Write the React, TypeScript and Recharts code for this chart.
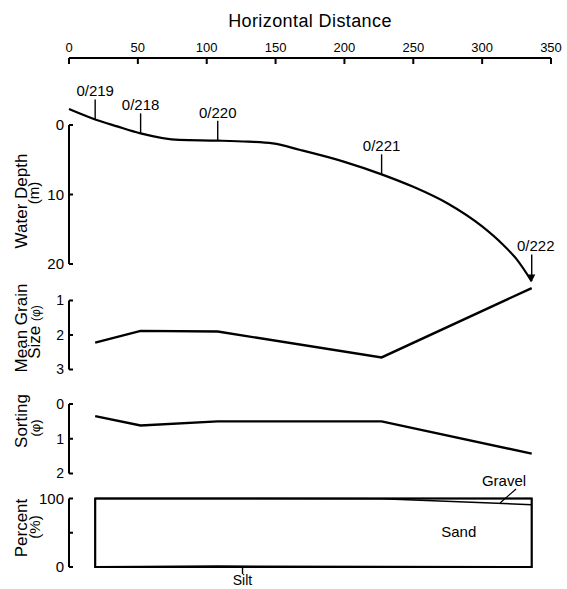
import React from 'react';
import {
  ComposedChart,
  Line,
  Area,
  Scatter,
  XAxis,
  YAxis,
  ReferenceLine,
  ReferenceArea,
  ReferenceDot,
  Label,
} from 'recharts';

const FONT = '"Liberation Sans", Arial, Helvetica, sans-serif';
const PAGE_W = 567;
const PAGE_H = 589;
const PLOT_LEFT = 69;
const PLOT_RIGHT_MARGIN = 16;
const X_DOMAIN: [number, number] = [0, 350];

// ---------------- data ----------------
const distanceTicks = [0, 50, 100, 150, 200, 250, 300, 350];

const stationNames = ['0/219', '0/218', '0/220', '0/221', '0/222'];
const stationDistance = [19, 52, 108, 227, 336];

const profileDistance = [0, 19, 35, 52, 80, 108, 130, 148, 168, 200, 227, 250, 275, 300, 315, 325, 336];
const profileDepth = [-2.3, -0.8, 0.2, 1.2, 2.15, 2.25, 2.4, 2.65, 3.6, 5.3, 7.1, 8.9, 11.3, 14.6, 17.2, 19.3, 22.5];

const meanGrainSize = [2.22, 1.88, 1.9, 2.65, 0.64];
const sortingValues = [0.35, 0.62, 0.5, 0.5, 1.43];
const siltPercent = [0.3, 0.6, 1.2, 0.5, 0];
const gravelPercent = [0, 0, 0, 0.5, 9];

const depthTicks = [0, 10, 20];
const grainTicks = [1, 2, 3];
const sortingTicks = [0, 1, 2];
const percentTicks = [0, 50, 100];
const percentTickLabels: Record<number, string> = { 0: '0', 50: '', 100: '100' };

// annotation anchors (data coordinates)
const siltLabelAt = { d: 126, pct: 0 };
const sandLabelAt = { d: 283, pct: 51 };
const gravelLabelAt = { d: 313, pct: 93.5 };

// ---------------- derived rows ----------------
const profileRows = profileDistance.map((d, i) => ({ d, depth: profileDepth[i] }));
const stationRows = stationNames.map((name, i) => {
  const d = stationDistance[i];
  const j = profileDistance.indexOf(d);
  return { name, d, depth: profileDepth[j] };
});
const sampleRows = stationDistance.map((d, i) => ({
  d,
  grain: meanGrainSize[i],
  sorting: sortingValues[i],
  silt: siltPercent[i],
  sand: 100 - siltPercent[i] - gravelPercent[i],
  gravel: gravelPercent[i],
}));

const lastStation = stationNames[stationNames.length - 1];

const StationMarker = (props: any) => {
  const { cx, cy, payload } = props;
  const isLast = payload && payload.name === lastStation;
  const len = isLast ? 27 : 20;
  return (
    <g>
      <line x1={cx} y1={cy - len} x2={cx} y2={isLast ? cy - 5 : cy} stroke="#000" strokeWidth={1.4} />
      {isLast && (
        <path d={`M${cx - 3.5},${cy - 7} L${cx},${cy} L${cx + 3.5},${cy - 7} Z`} fill="#000" />
      )}
      <text
        x={cx + (isLast ? 4 : 0)}
        y={cy - len - 3}
        textAnchor="middle"
        fontSize={15}
        fontFamily={FONT}
        fill="#000"
      >
        {payload.name}
      </text>
    </g>
  );
};

const SiltMark = (props: any) => {
  const { cx, cy } = props;
  return (
    <g>
      <line x1={cx} y1={cy} x2={cx} y2={cy + 7} stroke="#000" strokeWidth={1.4} />
      <text x={cx} y={cy + 18} textAnchor="middle" fontSize={14} fontFamily={FONT} fill="#000">
        Silt
      </text>
    </g>
  );
};

const SandMark = (props: any) => {
  const { cx, cy } = props;
  return (
    <text x={cx} y={cy + 5} textAnchor="middle" fontSize={15} fontFamily={FONT} fill="#000">
      Sand
    </text>
  );
};

const GravelMark = (props: any) => {
  const { cx, cy } = props;
  return (
    <g>
      <line x1={cx} y1={cy} x2={cx + 16} y2={cy - 14} stroke="#000" strokeWidth={1.3} />
      <text x={cx + 4} y={cy - 17} textAnchor="middle" fontSize={15} fontFamily={FONT} fill="#000">
        Gravel
      </text>
    </g>
  );
};

type PanelProps = {
  top: number;
  height: number;
  plotTop: number;
  plotBottom: number;
  data: any[];
  yDomain: [number, number];
  reversed?: boolean;
  ticks: number[];
  tickFontSize?: number;
  tickFormatter?: (v: number) => string;
  children?: React.ReactNode;
};

function Panel({ top, height, plotTop, plotBottom, data, yDomain, reversed, ticks, tickFontSize = 15, tickFormatter, children }: PanelProps) {
  const axisFrom = ticks[0];
  const axisTo = ticks[ticks.length - 1];
  return (
    <div style={{ position: 'absolute', left: 0, top, width: PAGE_W, height }}>
      <ComposedChart
        width={PAGE_W}
        height={height}
        data={data}
        margin={{ top: plotTop - top, bottom: top + height - plotBottom, left: 0, right: PLOT_RIGHT_MARGIN }}
      >
        <XAxis dataKey="d" type="number" domain={X_DOMAIN} hide />
        <YAxis
          type="number"
          domain={yDomain}
          reversed={reversed}
          ticks={ticks}
          interval={0}
          width={PLOT_LEFT}
          axisLine={false}
          tickSize={-4}
          tickMargin={9}
          tickLine={{ stroke: '#000', strokeWidth: 2 }}
          tick={{ fill: '#000', fontSize: tickFontSize, fontFamily: FONT }}
          tickFormatter={tickFormatter}
        />
        <ReferenceLine
          segment={[
            { x: 0, y: axisFrom },
            { x: 0, y: axisTo },
          ]}
          stroke="#000"
          strokeWidth={2}
        />
        {children}
      </ComposedChart>
    </div>
  );
}

function TitleText({ x, y, size, children }: { x: number; y: number; size: number; children: React.ReactNode }) {
  return (
    <text
      transform={`translate(${x},${y}) rotate(-90)`}
      textAnchor="middle"
      fontSize={size}
      fontFamily={FONT}
      fill="#000"
    >
      {children}
    </text>
  );
}

export default function App() {
  return (
    <div style={{ position: 'absolute', left: 0, top: 0, width: PAGE_W, height: PAGE_H, background: '#fff', overflow: 'hidden' }}>
      {/* top distance axis */}
      <div style={{ position: 'absolute', left: 0, top: 0 }}>
        <ComposedChart
          width={PAGE_W}
          height={72}
          data={sampleRows}
          margin={{ top: 0, right: PLOT_RIGHT_MARGIN, left: PLOT_LEFT, bottom: 0 }}
        >
          <XAxis
            dataKey="d"
            type="number"
            domain={X_DOMAIN}
            orientation="top"
            ticks={distanceTicks}
            interval={0}
            height={58}
            axisLine={{ stroke: '#000', strokeWidth: 2 }}
            tickLine={{ stroke: '#000', strokeWidth: 2 }}
            tickSize={-6}
            tickMargin={12}
            tick={{ fill: '#000', fontSize: 13, fontFamily: FONT }}
          >
            <Label
              value="Horizontal Distance"
              position="insideTop"
              offset={14}
              style={{ fill: '#000', fontSize: 18, fontFamily: FONT, letterSpacing: 0.4 }}
            />
          </XAxis>
          <YAxis hide />
        </ComposedChart>
      </div>

      {/* water depth */}
      <Panel
        top={70}
        height={225}
        plotTop={125 - 3 * 6.95}
        plotBottom={125 + 23 * 6.95}
        data={profileRows}
        yDomain={[-3, 23]}
        reversed
        ticks={depthTicks}
      >
        <Line
          dataKey="depth"
          type="monotone"
          stroke="#000"
          strokeWidth={2.2}
          dot={false}
          isAnimationActive={false}
        />
        <Scatter data={stationRows} dataKey="depth" shape={StationMarker} isAnimationActive={false} />
      </Panel>

      {/* mean grain size */}
      <Panel
        top={275}
        height={105}
        plotTop={300.5 - 0.5 * 34.5}
        plotBottom={300.5 + 2 * 34.5}
        data={sampleRows}
        yDomain={[0.5, 3]}
        reversed
        ticks={grainTicks}
        tickFontSize={14}
      >
        <Line dataKey="grain" type="linear" stroke="#000" strokeWidth={2.4} dot={false} isAnimationActive={false} />
      </Panel>

      {/* sorting */}
      <Panel
        top={395}
        height={90}
        plotTop={404}
        plotBottom={473.5}
        data={sampleRows}
        yDomain={[0, 2]}
        reversed
        ticks={sortingTicks}
        tickFontSize={14}
      >
        <Line dataKey="sorting" type="linear" stroke="#000" strokeWidth={2.4} dot={false} isAnimationActive={false} />
      </Panel>

      {/* percent */}
      <Panel
        top={458}
        height={131}
        plotTop={498.5}
        plotBottom={567}
        data={sampleRows}
        yDomain={[0, 100]}
        ticks={percentTicks}
        tickFormatter={(v: number) => percentTickLabels[v] ?? String(v)}
      >
        <ReferenceArea
          x1={stationDistance[0]}
          x2={stationDistance[stationDistance.length - 1]}
          y1={0}
          y2={100}
          fill="none"
          stroke="#000"
          strokeWidth={2.2}
        />
        <Area dataKey="silt" stackId="p" type="linear" stroke="#000" strokeWidth={1.8} fill="none" isAnimationActive={false} />
        <Area dataKey="sand" stackId="p" type="linear" stroke="#000" strokeWidth={1.5} fill="none" isAnimationActive={false} />
        <Area dataKey="gravel" stackId="p" type="linear" stroke="#000" strokeWidth={1.5} fill="none" isAnimationActive={false} />
        <ReferenceDot x={siltLabelAt.d} y={siltLabelAt.pct} r={0} shape={SiltMark} />
        <ReferenceDot x={sandLabelAt.d} y={sandLabelAt.pct} r={0} shape={SandMark} />
        <ReferenceDot x={gravelLabelAt.d} y={gravelLabelAt.pct} r={0} shape={GravelMark} />
      </Panel>

      {/* axis titles */}
      <svg
        width={PAGE_W}
        height={PAGE_H}
        style={{ position: 'absolute', left: 0, top: 0, pointerEvents: 'none' }}
      >
        <TitleText x={27} y={201} size={17}>Water Depth</TitleText>
        <TitleText x={39} y={193} size={15}>(m)</TitleText>
        <TitleText x={27} y={328} size={17}>Mean Grain</TitleText>
        <TitleText x={40} y={332} size={17}>
          Size <tspan fontSize={12}>(φ)</tspan>
        </TitleText>
        <TitleText x={27} y={421} size={17}>Sorting</TitleText>
        <TitleText x={40} y={428} size={13}>(φ)</TitleText>
        <TitleText x={27} y={528} size={17}>Percent</TitleText>
        <TitleText x={40} y={527} size={15}>(%)</TitleText>
      </svg>
    </div>
  );
}
